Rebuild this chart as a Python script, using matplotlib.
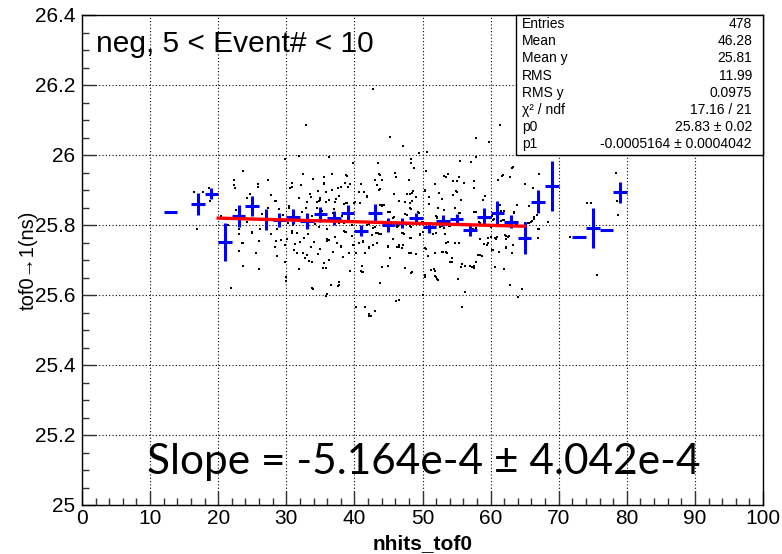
import numpy as np
import matplotlib
matplotlib.use("Agg")
from matplotlib import pyplot as plt
from matplotlib.ticker import MultipleLocator

plt.rcParams['font.family'] = ['Liberation Sans', 'DejaVu Sans']

# TProfile points (bin centres, means, errors on mean)
prof_x = [13, 17, 19, 21, 23, 25, 27, 29, 31, 33, 35, 37, 39, 41, 43, 45,
          47, 49, 51, 53, 55, 57, 59, 61, 63, 65, 67, 69, 73, 75, 77, 79]
prof_y = [25.838, 25.860, 25.889, 25.752, 25.826, 25.854, 25.816, 25.814,
          25.824, 25.812, 25.831, 25.819, 25.835, 25.784, 25.835, 25.800,
          25.805, 25.820, 25.793, 25.812, 25.816, 25.786, 25.824, 25.835,
          25.810, 25.762, 25.867, 25.911, 25.767, 25.792, 25.786, 25.893]
prof_err = [0, 0.031, 0.016, 0.055, 0.031, 0.029, 0.029, 0.019, 0.022, 0.022,
            0.021, 0.020, 0.021, 0.015, 0.025, 0.019, 0.014, 0.014, 0.016, 0.016,
            0.016, 0.017, 0.024, 0.033, 0.019, 0.046, 0.034, 0.071, 0, 0.057,
            0, 0.030]
BIN_HALF = 1.0

# linear fit result
P0 = 25.83
P1 = -0.0005164
FIT_RANGE = [20, 65]

# scatter of individual events (nhits_tof0, tof0->1)
hits = [
    (32.9, 26.086), (31.9, 25.997), (36.3, 25.993), (29.8, 25.988), (23.6, 25.955),
    (27.3, 25.930), (22.3, 25.930), (22.3, 25.913), (22.4, 25.905), (25.8, 25.917),
    (25.8, 25.908), (24.6, 25.890), (28.4, 25.870), (27.7, 25.886), (27.3, 25.850),
    (16.4, 25.895), (17.7, 25.895), (18.6, 25.905), (18.8, 25.869), (24.3, 25.876),
    (30.8, 25.920), (30.8, 25.908), (30.6, 25.905), (32.5, 25.946), (33.9, 25.932),
    (35.6, 25.938), (35.6, 25.919), (35.5, 25.917), (36.7, 25.945), (32.2, 25.913),
    (33.5, 25.890), (33.6, 25.881), (34.7, 25.897), (35.9, 25.895), (36.7, 25.900),
    (37.6, 25.905), (35.0, 25.876), (34.9, 25.871), (31.9, 25.876), (33.1, 25.867),
    (36.3, 25.871), (37.3, 25.874), (30.4, 25.850), (34.5, 25.848), (32.9, 25.848),
    (42.8, 26.190), (45.3, 26.052), (47.1, 26.027), (49.5, 26.007), (50.6, 26.009),
    (57.8, 26.048), (39.8, 25.978), (43.5, 25.976), (48.3, 25.990), (48.3, 25.978),
    (48.8, 25.962), (50.5, 25.954), (55.5, 25.984), (57.1, 25.981), (57.9, 25.993),
    (38.8, 25.943), (38.9, 25.941), (43.6, 25.946), (43.8, 25.943), (46.0, 25.949),
    (46.1, 25.938), (43.0, 25.930), (44.0, 25.930), (48.0, 25.930), (53.1, 25.939),
    (53.4, 25.937), (53.8, 25.946), (55.3, 25.938), (55.1, 25.927), (54.5, 25.927),
    (57.5, 25.927), (51.9, 25.917), (50.4, 25.900), (50.3, 25.898), (48.6, 25.898),
    (47.7, 25.889), (48.2, 25.889), (48.5, 25.891), (45.8, 25.890), (43.8, 25.903),
    (43.6, 25.900), (43.3, 25.914), (40.9, 25.918), (39.3, 25.917), (39.1, 25.908),
    (38.0, 25.908), (38.6, 25.919), (40.7, 25.895), (41.4, 25.895), (41.9, 25.883),
    (41.8, 25.880), (46.5, 25.869), (47.4, 25.866), (48.1, 25.863), (48.4, 25.869),
    (49.1, 25.881), (50.9, 25.881), (52.4, 25.892), (52.9, 25.873), (54.9, 25.897),
    (55.0, 25.893), (54.5, 25.886), (57.5, 25.905), (56.1, 25.921), (59.2, 25.883),
    (58.9, 25.871), (55.7, 25.871), (54.8, 25.848), (52.3, 25.850), (51.0, 25.860),
    (43.7, 25.856), (44.0, 25.855), (40.1, 25.867), (38.7, 25.862), (37.7, 25.883),
    (16.9, 25.788), (20.4, 25.826), (23.0, 25.790), (23.0, 25.774), (23.6, 25.749),
    (23.0, 25.727), (23.6, 25.683), (21.9, 25.619), (25.0, 25.778), (25.5, 25.721),
    (26.0, 25.673), (26.1, 25.788), (27.7, 25.774), (28.5, 25.869), (28.7, 25.788),
    (28.5, 25.755), (28.4, 25.736), (28.7, 25.711), (29.8, 25.695), (30.0, 25.652),
    (29.9, 25.640), (30.4, 25.854), (30.8, 25.778), (31.6, 25.778), (31.3, 25.746),
    (32.6, 25.762), (34.5, 25.867), (34.8, 25.868), (35.9, 25.867), (37.2, 25.866),
    (36.8, 25.835), (35.7, 25.814), (34.8, 25.795), (36.0, 25.760), (36.2, 25.758),
    (37.2, 25.765), (33.7, 25.738), (32.5, 25.719), (32.8, 25.705), (33.4, 25.698),
    (34.7, 25.717), (35.5, 25.692), (35.4, 25.676), (36.2, 25.700), (31.9, 25.673),
    (33.8, 25.620), (33.9, 25.617), (35.8, 25.597), (36.5, 25.629), (37.6, 25.626),
    (38.0, 25.736), (38.5, 25.783), (38.6, 25.781), (39.4, 25.669), (41.1, 25.682),
    (41.1, 25.667), (40.9, 25.668), (41.3, 25.667), (42.1, 25.737), (42.2, 25.735),
    (41.6, 25.721), (42.8, 25.743), (43.3, 25.749), (44.0, 25.681), (43.8, 25.635),
    (45.3, 25.705), (45.0, 25.683), (46.5, 25.738), (46.3, 25.736), (46.6, 25.743),
    (47.1, 25.743), (47.0, 25.734), (48.0, 25.720), (48.3, 25.721), (49.1, 25.718),
    (49.0, 25.717), (47.5, 25.676), (48.4, 25.666), (48.3, 25.664), (46.1, 25.584),
    (43.0, 25.555), (42.2, 25.540), (40.2, 25.567), (37.7, 25.636), (50.4, 25.734),
    (50.5, 25.731), (50.8, 25.711), (51.9, 25.719), (52.8, 25.723), (53.0, 25.722),
    (53.5, 25.724), (54.4, 25.705), (54.3, 25.695), (55.8, 25.690), (56.2, 25.684),
    (57.0, 25.683), (57.5, 25.683), (53.6, 25.720), (51.2, 25.671), (51.7, 25.674),
    (51.8, 25.668), (52.2, 25.646), (52.3, 25.643), (50.3, 25.651), (55.2, 25.645),
    (56.2, 25.609), (55.8, 25.567), (59.1, 25.746), (59.5, 25.744), (59.6, 25.749),
    (58.2, 25.714), (57.8, 25.695), (58.8, 25.711), (55.3, 25.749), (54.8, 25.750),
    (53.8, 25.751), (53.4, 25.749), (53.3, 25.774), (52.0, 25.776), (51.5, 25.774),
    (50.1, 25.781), (49.6, 25.774), (49.7, 25.771), (48.1, 25.764), (48.3, 25.762),
    (47.0, 25.776), (47.2, 25.778), (47.3, 25.774), (45.6, 25.761), (45.7, 25.760),
    (44.9, 25.740), (45.0, 25.738), (43.6, 25.774), (43.4, 25.776), (43.2, 25.778),
    (43.9, 25.773), (42.6, 25.771), (41.2, 25.754), (41.3, 25.752), (40.7, 25.748),
    (39.7, 25.769), (40.3, 25.783), (40.5, 25.784), (38.5, 25.806), (38.4, 25.860),
    (38.9, 25.862), (39.9, 25.863), (40.8, 25.862), (43.9, 25.858), (44.1, 25.856),
    (44.3, 25.858), (45.0, 25.836), (45.3, 25.838), (45.6, 25.821), (45.8, 25.823),
    (48.1, 25.849), (48.3, 25.846), (47.5, 25.831), (47.7, 25.829), (49.3, 25.837),
    (49.5, 25.834), (52.0, 25.826), (52.2, 25.824), (52.1, 25.821), (53.1, 25.843),
    (55.4, 25.834), (55.5, 25.833), (57.5, 25.836), (57.8, 25.838), (58.3, 25.809),
    (58.5, 25.805), (59.2, 25.799), (59.3, 25.800), (57.8, 25.791), (57.4, 25.788),
    (52.6, 25.794), (53.1, 25.792), (52.9, 25.796), (53.9, 25.797), (54.0, 25.796),
    (46.4, 25.797), (46.2, 25.795), (43.0, 25.793), (42.8, 25.791), (41.8, 25.801),
    (42.1, 25.804), (49.9, 25.809), (49.4, 25.806), (48.1, 25.797), (48.3, 25.795),
    (61.2, 25.857), (63.9, 25.857), (61.9, 25.841), (61.6, 25.839), (63.5, 25.838),
    (60.2, 25.826), (60.1, 25.819), (60.5, 25.816), (60.4, 25.814), (61.8, 25.814),
    (62.0, 25.815), (61.6, 25.812), (63.7, 25.800), (63.9, 25.800), (65.5, 25.805),
    (65.6, 25.807), (66.3, 25.818), (66.4, 25.822), (66.8, 25.829), (65.7, 25.854),
    (67.0, 25.790), (67.1, 25.788), (68.5, 25.810), (60.1, 25.793), (60.7, 25.762),
    (60.8, 25.760), (62.1, 25.772), (62.3, 25.769), (62.6, 25.765), (62.7, 25.769),
    (60.0, 25.765), (63.3, 25.743), (63.1, 25.721), (62.3, 25.733), (60.4, 25.730),
    (61.3, 25.724), (66.9, 25.763), (67.0, 25.764), (60.6, 25.679), (61.9, 25.673),
    (62.8, 25.629), (64.6, 25.616), (64.0, 25.593), (74.2, 25.863), (74.7, 25.862),
    (78.7, 25.829), (71.7, 25.765), (75.6, 25.657), (78.5, 25.869), (61.4, 26.086),
    (59.8, 26.038), (63.3, 25.966), (63.2, 25.963), (61.8, 25.944), (61.7, 25.941),
    (62.8, 25.936), (61.1, 25.929), (65.1, 25.917), (67.1, 25.946), (66.2, 25.905),
    (78.4, 25.950), (79.1, 25.911), (61.1, 25.860), (61.4, 25.858), (65.9, 25.809),
    (66.1, 25.812), (50.3, 25.657), (51.9, 25.654), (52.0, 25.651), (50.1, 25.600),
    (54.0, 25.695), (55.7, 25.679), (57.3, 25.679), (57.5, 25.678), (58.4, 25.714),
    (58.4, 25.759), (59.6, 25.762), (60.2, 25.730), (61.0, 25.765), (62.3, 25.736),
    (62.3, 25.759), (62.9, 25.800), (63.1, 25.798), (63.5, 25.833), (65.1, 25.805),
    (29.0, 25.845), (29.5, 25.830), (30.2, 25.805), (31.0, 25.800), (31.5, 25.822),
    (32.3, 25.838), (33.0, 25.811), (33.8, 25.826), (34.2, 25.804), (35.2, 25.841),
    (36.0, 25.790), (36.6, 25.812), (37.0, 25.845), (37.8, 25.806), (38.2, 25.826),
    (39.0, 25.842), (39.6, 25.800), (30.1, 25.760), (31.2, 25.728), (32.0, 25.752),
    (33.2, 25.775), (34.1, 25.752), (35.0, 25.732), (36.8, 25.722), (37.5, 25.748),
    (38.3, 25.708), (39.2, 25.720), (39.8, 25.742), (29.2, 25.758), (27.2, 25.805),
    (26.5, 25.832), (26.0, 25.755), (24.3, 25.808), (22.6, 25.842), (21.5, 25.800),
    (18.3, 25.890), (25.0, 25.781), (23.5, 25.750), (36.0, 25.603), (37.8, 25.629),
    (41.5, 25.567), (42.1, 25.547), (46.5, 25.586), (43.8, 25.633), (35.8, 25.677),
    (33.8, 25.695), (33.0, 25.714), (31.6, 25.720), (29.8, 25.743), (30.8, 25.783),
    (36.0, 25.754), (38.0, 25.740), (38.8, 25.781), (39.9, 25.743), (40.3, 25.720),
    (42.4, 25.540),
]
hits_x = [h[0] for h in hits]
hits_y = [h[1] for h in hits]

stats_names = ["Entries", "Mean", "Mean y", "RMS", "RMS y", "χ² / ndf", "p0", "p1"]
stats_vals = ["478", "46.28", "25.81", "11.99", "0.0975", "17.16 / 21",
              "25.83 ± 0.02", "-0.0005164 ± 0.0004042"]

fig = plt.figure(figsize=(7.82, 5.54), dpi=100)
ax = fig.add_axes([82/782, 1 - 505/554, (763 - 82)/782, (505 - 15)/554])

ax.scatter(hits_x, hits_y, s=3.5, marker='s', color='black', linewidths=0, zorder=2)

ax.errorbar(prof_x, prof_y, xerr=BIN_HALF, yerr=prof_err, fmt='none',
            ecolor='#0000ff', elinewidth=2.2, capsize=0, zorder=3)

fx = np.array(FIT_RANGE, dtype=float)
ax.plot(fx, P0 + P1 * fx, color='#ff0000', lw=2.4, zorder=4)

ax.set_xlim(0, 100)
ax.set_ylim(25, 26.4)
ax.xaxis.set_major_locator(MultipleLocator(10))
ax.xaxis.set_minor_locator(MultipleLocator(2))
ax.yaxis.set_major_locator(MultipleLocator(0.2))
ax.yaxis.set_minor_locator(MultipleLocator(0.05))
ax.yaxis.set_major_formatter(plt.FuncFormatter(lambda v, p: f"{v:g}"))
ax.tick_params(which='both', direction='in', top=False, right=False,
               labelsize=15, color='#333333')
ax.tick_params(which='major', length=10, width=1)
ax.tick_params(which='minor', length=5, width=1)
ax.tick_params(axis='x', pad=3)
ax.tick_params(axis='y', pad=5)
ax.grid(True, which='major', linestyle=(0, (1, 2)), color='black', lw=0.8)
for s in ax.spines.values():
    s.set_linewidth(1.0)

ax.set_xlabel("nhits_tof0", fontsize=15, fontweight='bold', labelpad=4)
ax.set_ylabel("tof0→1(ns)", fontsize=14.5, labelpad=-2)

ax.text(0.02, 0.94, "neg, 5 < Event# < 10", transform=ax.transAxes,
        fontsize=21.5, va='center', ha='left')

ax.text(0.096, 0.087, "Slope = -5.164e-4 ± 4.042e-4", transform=ax.transAxes,
        fontsize=30.5, va='center', ha='left', family=['Lato', 'DejaVu Sans'])

# stats box
bx0, bx1 = 516/782, 763/782
by0, by1 = 1 - 155/554, 1 - 15/554
fig.patches.append(plt.Rectangle((bx0, by0), bx1 - bx0, by1 - by0,
                                 transform=fig.transFigure, facecolor='white',
                                 edgecolor='black', lw=1, zorder=5))
for i, (n, v) in enumerate(zip(stats_names, stats_vals)):
    yy = 1 - (24 + i * 17.2) / 554
    fig.text(522/782, yy, n, fontsize=10, va='center', ha='left', zorder=6)
    fig.text(752/782, yy, v, fontsize=10, va='center', ha='right', zorder=6)

fig.savefig("out.png", dpi=100)
